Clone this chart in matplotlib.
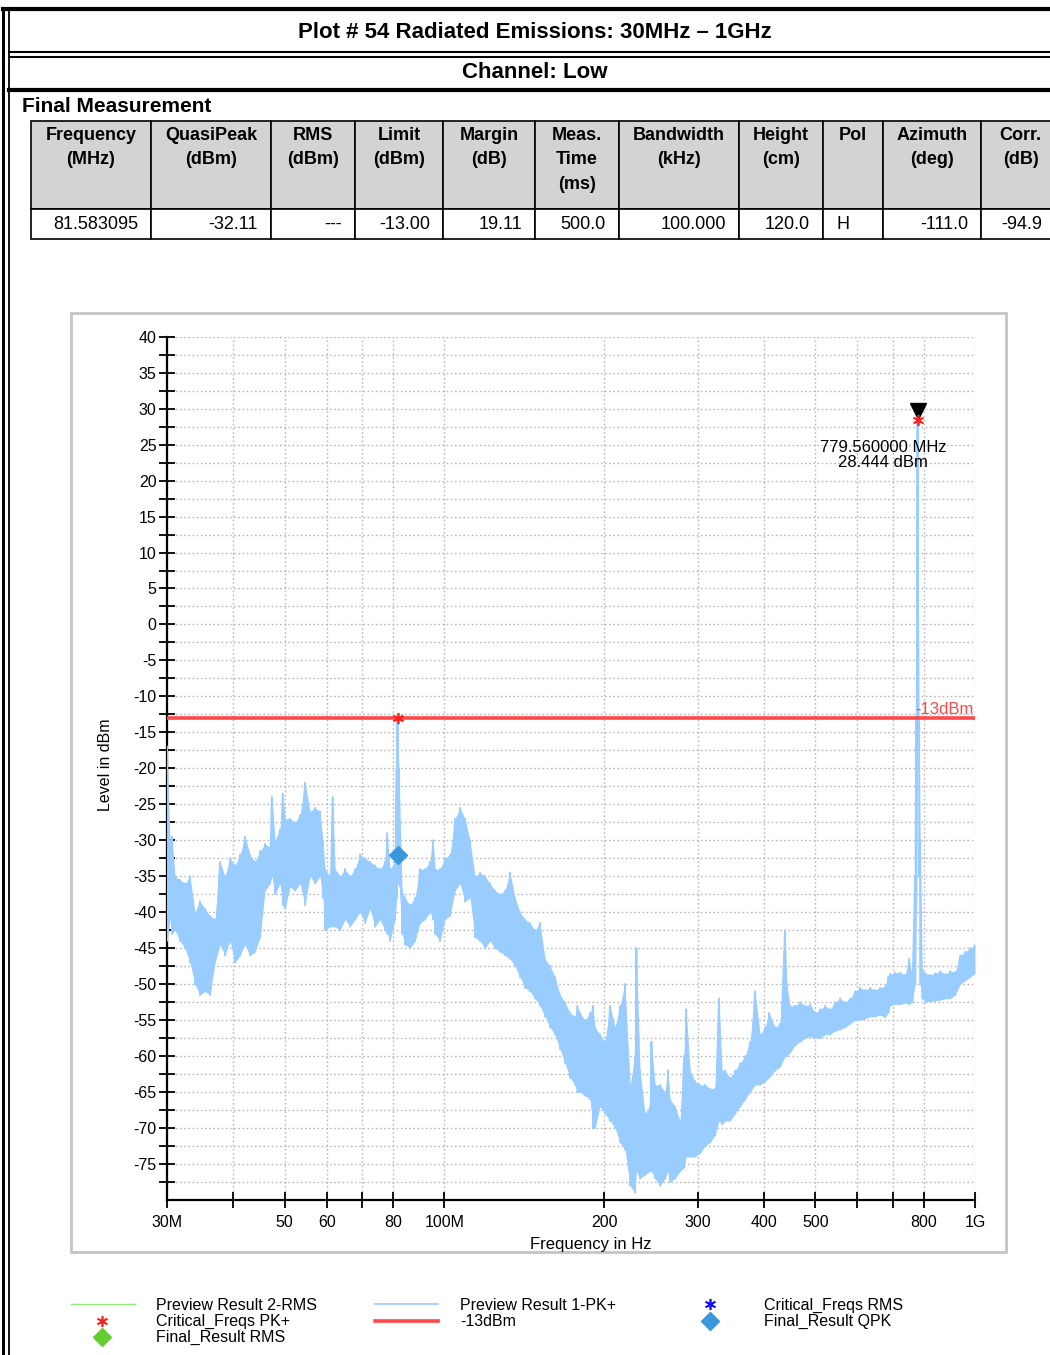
import numpy as np
import matplotlib
matplotlib.use("Agg")
import matplotlib.pyplot as plt
from matplotlib import font_manager
from matplotlib.patches import Rectangle
from matplotlib.ticker import FixedLocator, FixedFormatter

# header / table contents
title = "Plot # 54 Radiated Emissions: 30MHz \u2013 1GHz"
channel = "Channel: Low"
section = "Final Measurement"

col_headers = ["Frequency\n(MHz)", "QuasiPeak\n(dBm)", "RMS\n(dBm)", "Limit\n(dBm)",
               "Margin\n(dB)", "Meas.\nTime\n(ms)", "Bandwidth\n(kHz)", "Height\n(cm)",
               "Pol", "Azimuth\n(deg)", "Corr.\n(dB)"]
row_values = ["81.583095", "-32.11", "---", "-13.00", "19.11", "500.0",
              "100.000", "120.0", "H", "-111.0", "-94.9"]

# Preview Result 1-PK+ : upper / lower edge of the trace read at each frequency
freq_mhz = [30.0, 30.39, 30.66, 31.06, 31.74, 32.44, 33.15, 33.87, 34.61, 35.37,
            36.15, 36.95, 37.76, 38.59, 39.44, 40.30, 41.19, 42.09, 43.01, 43.96,
            44.92, 45.91, 46.91, 47.3, 47.94, 48.99, 49.6, 50.07, 51.17, 52.29,
            53.44, 54.61, 55.81, 57.03, 58.28, 59.0, 59.56, 60.87, 61.6, 62.20,
            63.57, 64.96, 66.39, 67.84, 69.33, 70.85, 72.41, 74.00, 75.62, 77.28,
            78.0, 78.97, 80.70, 81.3, 81.58, 82.1, 83.2, 84.28, 86.13, 88.02,
            89.95, 91.93, 93.94, 95.2, 96.00, 98.11, 100.26, 102.46, 104.71, 107.00,
            109.35, 111.75, 114.20, 116.71, 119.27, 121.88, 124.56, 127.29, 130.08, 132.94,
            135.85, 138.83, 141.88, 144.99, 148.17, 151.42, 154.74, 158.14, 161.61, 165.15,
            168.77, 172.48, 176.26, 178.0, 180.13, 184.08, 188.12, 190.5, 192.25, 196.46,
            200.77, 205.18, 209.68, 214.28, 218.98, 223.79, 228.70, 230.0, 233.71, 238.84,
            244.08, 245.5, 249.44, 254.91, 260.50, 263.9, 266.22, 272.06, 278.03, 283.0,
            285.5, 290.36, 296.73, 303.24, 309.90, 316.70, 323.65, 329.3, 333.6, 338.01,
            345.42, 353.00, 360.75, 368.66, 376.75, 385.02, 393.47, 402.10, 409.2, 419.94,
            429.16, 438.58, 442.0, 448.20, 458.04, 468.09, 478.0, 488.87, 499.6, 510.57,
            521.8, 533.24, 545.0, 556.91, 569.2, 581.63, 594.4, 607.45, 620.8, 634.42,
            648.3, 662.58, 677.2, 686.0, 691.99, 707.2, 722.71, 738.6, 751.6, 761.5,
            771.38, 774.7, 779.56, 784.6, 788.32, 795.4, 806.0, 823.31, 841.4, 859.86,
            878.8, 898.03, 917.8, 937.89, 958.5, 979.52, 1000.0]
pk_hi = [-17, -30, -29.5, -35, -35.5, -36, -35, -40, -38.5, -39.5,
         -40.5, -41, -33, -35, -32.5, -33.5, -32, -29.5, -32, -33,
         -31.5, -30.5, -31, -24, -30, -28.5, -23.5, -27, -27, -27.5,
         -26.5, -22, -26, -25.5, -26, -30, -34, -35, -24, -34,
         -35, -34, -35, -34, -32, -32.5, -33, -33.5, -34, -33,
         -29, -34, -33, -20, -13, -20, -37, -38, -39, -38,
         -34, -34, -33, -30, -34, -34, -32.5, -32, -27, -25.5,
         -27, -30, -35, -34.5, -35, -36, -37, -37.5, -37, -34.5,
         -38, -40, -41, -41.5, -42.5, -41.5, -46.5, -47.5, -49, -51.5,
         -52.5, -54, -54.5, -53, -54, -55, -54, -53, -56, -57,
         -58, -53, -56, -53, -50, -64, -60, -45, -62, -68,
         -67, -58, -64, -64, -65, -62, -66, -67, -69, -60,
         -53.5, -62, -63.5, -64, -64, -64.5, -64.5, -52, -62, -62,
         -63, -62, -61, -60, -58, -51, -57, -56, -54, -56,
         -55.5, -42.5, -50, -53, -53, -52.5, -53, -52.8, -54, -53.5,
         -53, -53.5, -52.5, -52, -52.5, -52, -51, -50.5, -50.8, -50.5,
         -50.8, -50.5, -50.3, -49, -48.6, -48.4, -48.4, -48.7, -46.5, -49,
         -35, -13, 28.444, -13, -30, -48, -48.5, -48.7, -48.5, -48.2,
         -48.6, -48.2, -48.3, -46, -45.5, -45, -44.5]
pk_lo = [-44, -41, -43, -42.5, -44, -45, -47, -50, -51.5, -51,
         -51.5, -47, -44.5, -46, -44, -47, -46, -44.5, -46, -45.5,
         -43.5, -37, -36, -35, -37.5, -36, -39, -39.5, -36.5, -37,
         -36, -39, -35, -36, -35, -38, -42.5, -42, -42, -42,
         -42.5, -41, -42, -41, -40, -41.5, -39.5, -42, -41, -42.5,
         -43, -44, -41, -38, -30, -36, -43, -44.5, -45, -44,
         -41.5, -41, -40, -41, -43, -44, -41, -40.5, -37, -36,
         -38.5, -38, -43.5, -44, -45, -44, -45, -45.5, -46, -46.5,
         -47.5, -49, -50.5, -51, -52, -53, -54.5, -56, -57, -59,
         -61, -63, -64, -65, -65, -65.5, -66, -70, -70, -67,
         -68, -69, -70, -72, -73, -78, -79, -76, -77, -76.5,
         -76, -76, -77, -78, -77, -76, -77.5, -77, -76, -75.5,
         -74, -74, -74, -73.5, -72.5, -72, -71, -69, -69.5, -69,
         -69, -68, -67, -66, -65, -64, -64, -63.5, -63, -62,
         -61.5, -60, -60, -59.5, -58.5, -58, -57.5, -57.3, -57.5, -57.5,
         -57, -57, -56.5, -56.3, -56, -55.5, -55, -55, -54.8, -54.5,
         -54.5, -54.3, -54.6, -54, -53, -52.8, -52.8, -52.6, -52.8, -52.5,
         -50, -40, -13, -35, -50, -52, -52.5, -52.4, -52.3, -52.2,
         -52, -52, -51.5, -50, -49.5, -49, -48.5]

limit_dbm = -13.0
crit_pk_freq = [81.583095, 779.56]
crit_pk_level = [-13.0, 28.444]
qpk_freq = [81.583095]
qpk_level = [-32.11]
peak_freq = 779.56
peak_level = 28.444

x_ticks = [30, 40, 50, 60, 70, 80, 100, 200, 300, 400, 500, 600, 700, 800, 1000]
x_tick_labels = ["30M", "", "50", "60", "", "80", "100M", "200", "300", "400", "500", "", "", "800", "1G"]
y_major = list(range(40, -80, -5))

names = {f.name for f in font_manager.fontManager.ttflist}
narrow = 'Liberation Sans Narrow' if 'Liberation Sans Narrow' in names else 'Liberation Sans'
plt.rcParams['font.family'] = ['Liberation Sans', 'DejaVu Sans']

W, H = 1050, 1355
fig = plt.figure(figsize=(W / 100, H / 100), dpi=100)

# page layer in pixel coordinates
page = fig.add_axes([0, 0, 1, 1])
page.set_xlim(0, W)
page.set_ylim(H, 0)
page.axis('off')

page.plot([3, 3], [8, H], color='black', lw=2.2)
page.plot([8.5, 8.5], [8, H], color='black', lw=1.3)
page.plot([3, W], [9, 9], color='black', lw=3)
page.plot([8.5, W], [52, 52], color='black', lw=1.5)
page.plot([8.5, W], [56.5, 56.5], color='black', lw=1.5)
page.plot([8.5, W], [90, 90], color='black', lw=3)

page.text(535, 32, title, family=narrow, weight='bold', fontsize=16, ha='center', va='center')
page.text(535, 72, channel, family=narrow, weight='bold', fontsize=16, ha='center', va='center')
page.text(22, 107, section, family=narrow, weight='bold', fontsize=15, ha='left', va='center')

# result table
col_edges = [31, 151, 271, 355, 443, 535, 619, 739, 823, 883, 981, 1060]
head_top, head_bot, row_bot = 121, 209, 239
for i in range(len(col_headers)):
    x0, x1 = col_edges[i], col_edges[i + 1]
    page.add_patch(Rectangle((x0, head_top), x1 - x0, head_bot - head_top,
                             facecolor='#d3d3d3', edgecolor='black', lw=1.2))
    page.add_patch(Rectangle((x0, head_bot), x1 - x0, row_bot - head_bot,
                             facecolor='white', edgecolor='black', lw=1.2))
    page.text((x0 + x1) / 2, 126.5, col_headers[i], family=narrow, weight='bold',
              fontsize=13, ha='center', va='top', linespacing=1.58)
    if row_values[i] == "H":
        page.text(x0 + 13, 224.5, row_values[i], family=narrow, fontsize=13,
                  ha='left', va='center')
    else:
        page.text(x1 - 13 if i < len(col_headers) - 1 else 1042, 224.5, row_values[i],
                  family=narrow, fontsize=13, ha='right', va='center')

# chart frame
page.add_patch(Rectangle((71, 313), 935, 939, facecolor='white', edgecolor='#c4c4c4', lw=2))

# spectrum axes
ax = fig.add_axes([167 / W, 1 - 1200 / H, (975 - 167) / W, (1200 - 336.7) / H])
ax.set_facecolor('white')
ax.set_xscale('log')
ax.set_xlim(30, 1000)
ax.set_ylim(-80, 40)

ax.xaxis.set_major_locator(FixedLocator(x_ticks))
ax.xaxis.set_major_formatter(FixedFormatter(x_tick_labels))
ax.xaxis.set_minor_locator(FixedLocator([]))
ax.yaxis.set_major_locator(FixedLocator(y_major))
ax.yaxis.set_minor_locator(FixedLocator(np.arange(37.5, -80, -5)))
ax.set_yticklabels([str(v) for v in y_major])

ax.grid(True, which='both', color='#b8b8b8', linestyle=(0, (1.2, 1.8)), lw=1)
ax.set_axisbelow(True)
for s in ['top', 'right']:
    ax.spines[s].set_visible(False)
for s in ['left', 'bottom']:
    ax.spines[s].set_linewidth(1.6)
ax.tick_params(axis='both', which='both', direction='inout', length=11, width=1.3,
               labelsize=11.5, colors='black')
ax.tick_params(axis='y', pad=2)
ax.tick_params(axis='x', pad=5)

# trace: envelope band plus the hi/lo zigzag so single spikes stay visible
ax.fill_between(freq_mhz, pk_hi, pk_lo, color='#99ccff', lw=0, zorder=3)
xs = np.repeat(freq_mhz, 2)
ys = np.column_stack([pk_hi, pk_lo]).ravel()
ax.plot(xs, ys, color='#99ccff', lw=1.4, zorder=3)

ax.axhline(limit_dbm, color='#ff4848', lw=2.6, zorder=4)
ax.plot(crit_pk_freq, crit_pk_level, linestyle='none', marker=(6, 2, 0), ms=8,
        color='#ff2020', mew=1.2, zorder=6)
ax.plot(qpk_freq, qpk_level, linestyle='none', marker='D', ms=9, color='#3a96dd', zorder=6)
ax.plot([peak_freq], [peak_level + 1.2], linestyle='none', marker='v', ms=11,
        color='black', zorder=5)
ax.text(672, 23.6, "779.560000 MHz\n28.444 dBm", ha='center', va='center',
        fontsize=12, linespacing=1.0, zorder=7)
ax.text(772, -12.8, "-13dBm", color='#ff4848', ha='left', va='bottom', fontsize=12,
        zorder=7, clip_on=False)

ax.set_ylabel("Level in dBm", fontsize=11.5)
ax.yaxis.set_label_coords(-0.067, 0.504)
ax.set_xlabel("Frequency in Hz", fontsize=12)
ax.xaxis.set_label_coords(0.525, -0.043)

# legend
leg_txt = dict(fontsize=11.5, ha='left', va='center')
page.plot([71, 135], [1304, 1304], color='#90ee70', lw=1)
page.text(156, 1305, "Preview Result 2-RMS", **leg_txt)
page.plot([102], [1321], marker=(6, 2, 0), ms=8, color='#ff2020', mew=1.2)
page.text(156, 1321, "Critical_Freqs PK+", **leg_txt)
page.plot([102], [1337], marker='D', ms=9, color='#66cc33')
page.text(156, 1337, "Final_Result RMS", **leg_txt)

page.plot([375, 438], [1304, 1304], color='#99ccff', lw=1.2)
page.text(460, 1305, "Preview Result 1-PK+", **leg_txt)
page.plot([375, 438], [1321, 1321], color='#ff4848', lw=2.6)
page.text(460, 1321, "-13dBm", **leg_txt)

page.plot([710], [1304], marker=(6, 2, 0), ms=8, color='#1010ff', mew=1.2)
page.text(764, 1305, "Critical_Freqs RMS", **leg_txt)
page.plot([710], [1321], marker='D', ms=9, color='#3a96dd')
page.text(764, 1321, "Final_Result QPK", **leg_txt)

fig.savefig("out.png", dpi=100)
